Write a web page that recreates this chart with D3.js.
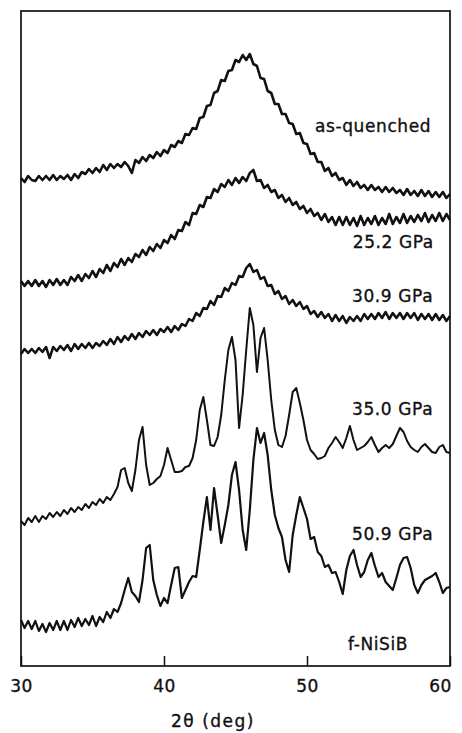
<!DOCTYPE html>
<html>
<head>
<meta charset="utf-8">
<script src="https://cdn.jsdelivr.net/npm/d3@7/dist/d3.min.js"></script>
<style>
  html, body { margin: 0; padding: 0; background: #fff; }
  svg { display: block; }
  .lbl { font-family: "DejaVu Sans", sans-serif; font-size: 17px; letter-spacing: 0.6px; fill: #111; stroke: #111; stroke-width: 0.35px; }
  .axis text { font-family: "DejaVu Sans", sans-serif; font-size: 17px; letter-spacing: 0.5px; fill: #111; stroke: #111; stroke-width: 0.35px; }
</style>
</head>
<body>
<div id="chart"></div>
<script>
// scan: 30-60 deg 2theta, one reading every 0.25 deg
const scanStart = 30;
const scanStep = 0.25;
const xTicks = [30, 40, 50, 60];

// intensities (arb. units, offsets already included)
const asQuenched = [
  488,484,490,486,485,490,486,490,486,491,
  486,490,487,491,486,492,488,494,492,497,
  493,498,494,501,496,502,498,502,499,504,
  500,493,506,503,509,505,511,508,514,510,
  516,513,521,519,525,523,532,531,538,537,
  548,549,560,561,573,575,586,585,595,596,
  606,604,611,606,612,602,600,588,587,575,
  573,562,562,552,552,543,542,532,533,523,
  522,512,513,504,504,495,498,490,493,486,
  488,481,486,480,484,478,481,476,481,476,
  479,474,479,474,478,473,476,471,477,471,
  475,470,476,470,475,469,474,469,474,468,
  472
];
const gpa252 = [
  385,380,385,380,386,380,385,379,386,381,
  387,381,386,381,389,385,391,385,392,388,
  395,389,397,393,401,395,403,399,407,401,
  408,404,412,409,416,411,419,415,422,418,
  426,423,431,427,436,435,444,441,453,452,
  461,459,469,468,477,474,482,479,486,481,
  488,483,489,485,493,496,485,486,478,481,
  474,476,468,471,464,468,461,464,457,460,
  453,457,450,453,446,452,444,449,441,449,
  441,449,441,448,440,450,441,448,442,450,
  441,448,442,452,442,449,443,452,443,450,
  444,451,445,453,444,451,445,453,445,452,
  446
];
const gpa309 = [
  312,317,313,317,313,318,314,319,308,319,
  315,320,316,321,315,322,317,322,318,323,
  318,323,320,325,321,327,322,329,324,330,
  326,332,327,333,329,335,331,336,331,337,
  334,339,334,340,336,342,340,347,345,353,
  350,358,357,365,361,370,369,378,375,383,
  381,390,389,398,402,394,396,387,389,380,
  381,372,375,367,370,362,366,360,364,357,
  360,352,355,349,354,348,352,345,351,345,
  350,343,349,345,350,345,352,347,352,347,
  353,348,354,347,353,348,353,347,353,348,
  353,346,352,347,352,346,352,346,351,345,
  350
];
const gpa350 = [
  145,141,148,144,150,144,150,147,153,149,
  154,150,156,152,158,154,159,156,162,158,
  164,161,167,163,169,166,172,179,196,198,
  183,175,196,226,239,201,181,183,187,190,
  201,218,206,194,194,195,199,200,208,226,
  256,269,246,221,220,229,251,286,316,329,
  306,238,271,316,358,341,294,328,338,306,
  266,236,221,219,230,251,274,278,263,246,
  226,216,212,207,208,210,218,223,229,224,
  218,228,240,226,216,218,220,224,229,221,
  214,218,221,218,222,230,238,234,225,219,
  216,214,219,222,218,214,213,219,221,214,
  213
];
const gpa509 = [
  46,38,45,37,45,35,42,34,43,36,
  45,36,45,36,46,39,48,40,47,41,
  50,40,49,44,54,48,57,54,63,76,
  88,74,70,64,86,118,121,86,71,60,
  68,63,81,98,99,68,76,84,90,89,
  116,144,169,136,178,151,123,141,161,191,
  204,176,136,116,156,206,238,223,233,211,
  176,151,138,129,106,94,131,151,169,158,
  147,127,129,114,110,99,101,93,94,84,
  72,96,110,116,101,89,94,106,113,100,
  89,93,84,80,76,88,101,108,109,98,
  81,73,81,86,88,90,93,84,73,78,
  79
];

const traceLabels = ['as-quenched', '25.2 GPa', '30.9 GPa', '35.0 GPa', '50.9 GPa', 'f-NiSiB'];

const width = 462;
const height = 733;
const margin = { top: 11, right: 12, bottom: 67, left: 21 };

const svg = d3.select('#chart')
  .append('svg')
  .attr('width', width)
  .attr('height', height);

const x = d3.scaleLinear()
  .domain([30, 60])
  .range([margin.left, width - margin.right]);

const y = d3.scaleLinear()
  .domain([0, 655])
  .range([height - margin.bottom, margin.top]);

// frame
svg.append('rect')
  .attr('x', margin.left)
  .attr('y', margin.top)
  .attr('width', width - margin.left - margin.right)
  .attr('height', height - margin.top - margin.bottom)
  .attr('fill', 'none')
  .attr('stroke', '#111')
  .attr('stroke-width', 1.7);

const xAxis = d3.axisBottom(x)
  .tickValues(xTicks)
  .tickSizeInner(-10)
  .tickSizeOuter(0)
  .tickPadding(14)
  .tickFormat(d3.format('d'));

const gx = svg.append('g')
  .attr('class', 'axis')
  .attr('transform', `translate(0, ${height - margin.bottom})`)
  .call(xAxis);
gx.select('.domain').remove();
gx.selectAll('.tick line').attr('stroke', '#111').attr('stroke-width', 1.5);
gx.selectAll('.tick text').attr('dx', (d) => d === 60 ? -10 : 0);

svg.append('text')
  .attr('class', 'lbl')
  .attr('x', 213)
  .attr('y', 727)
  .attr('text-anchor', 'middle')
  .style('letter-spacing', '1.5px')
  .text('2θ (deg)');

const line = d3.line()
  .x((d, i) => x(scanStart + i * scanStep))
  .y((d) => y(d));

// amorphous scans look heavier because of the counting noise
const series = [asQuenched, gpa252, gpa309, gpa350, gpa509];
const widths = [2.6, 2.6, 2.5, 2.0, 2.2];

series.forEach((s, i) => {
  svg.append('path')
    .datum(s)
    .attr('d', line)
    .attr('fill', 'none')
    .attr('stroke', '#111')
    .attr('stroke-width', widths[i])
    .attr('stroke-linejoin', 'round');
});

// label anchors in (2theta, intensity)
const labelAt = [[50.56, 534], [53.2, 418], [53.15, 364], [53.15, 251], [53.15, 126], [52.87, 16]];

svg.selectAll('text.trace-label')
  .data(traceLabels)
  .enter()
  .append('text')
  .attr('class', 'lbl trace-label')
  .attr('x', (d, i) => x(labelAt[i][0]))
  .attr('y', (d, i) => y(labelAt[i][1]))
  .text((d) => d);
</script>
</body>
</html>
